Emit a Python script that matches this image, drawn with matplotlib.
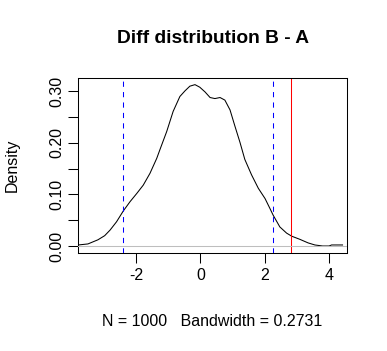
import matplotlib
matplotlib.use("Agg")
import matplotlib.pyplot as plt

plt.rcParams['font.family'] = ['Liberation Sans', 'DejaVu Sans']

# density curve
density_x = [-3.80, -3.50, -3.19, -2.98, -2.81, -2.61, -2.40, -2.19, -1.98, -1.78,
             -1.57, -1.36, -1.26, -1.05, -0.85, -0.64, -0.48, -0.33, -0.17, -0.02,
             0.14, 0.30, 0.45, 0.61, 0.76, 0.92, 1.07, 1.23, 1.38, 1.59,
             1.80, 2.01, 2.16, 2.26, 2.47, 2.68, 2.84, 3.09, 3.35, 3.56,
             3.68, 3.80, 4.00, 4.08, 4.20, 4.42]
density_y = [0.002, 0.004, 0.012, 0.020, 0.031, 0.047, 0.068, 0.086, 0.102, 0.118,
             0.141, 0.170, 0.187, 0.222, 0.261, 0.290, 0.301, 0.310, 0.313, 0.308,
             0.299, 0.288, 0.286, 0.288, 0.283, 0.264, 0.233, 0.201, 0.168, 0.138,
             0.112, 0.092, 0.073, 0.060, 0.037, 0.025, 0.019, 0.013, 0.006, 0.002,
             0.001, 0.0, 0.0, 0.002, 0.002, 0.002]

ci_bounds = [-2.40, 2.27]   # blue dashed
observed = 2.83             # red line

x_ticks = [-2, 0, 2, 4]
y_ticks = [0.00, 0.05, 0.10, 0.15, 0.20, 0.25, 0.30]
y_tick_labels = ["0.00", "", "0.10", "", "0.20", "", "0.30"]

title = "Diff distribution B - A"
xlabel = "N = 1000   Bandwidth = 0.2731"
ylabel = "Density"

W, H = 387, 351
fig = plt.figure(figsize=(W / 100, H / 100), dpi=100)
ax = fig.add_axes([78.3 / W, 1 - 252.7 / H, (346.7 - 78.3) / W, (252.7 - 78.3) / H])

ax.plot(density_x, density_y, color="black", lw=0.75, zorder=2)
ax.axhline(0, color="#BEBEBE", lw=0.75, zorder=3)
for b in ci_bounds:
    ax.axvline(b, color="#0000FF", lw=0.75, dashes=(5, 5), zorder=2)
ax.axvline(observed, color="#FF0000", lw=0.75, zorder=2)

ax.set_xlim(-3.80, 4.55)
ax.set_ylim(-0.0130, 0.3253)
ax.set_xticks(x_ticks)
ax.set_xticklabels([str(t) for t in x_ticks])
ax.set_yticks(y_ticks)
ax.set_yticklabels(y_tick_labels, rotation=90, va="center")

for s in ax.spines.values():
    s.set_linewidth(0.75)
ax.tick_params(length=6.9, width=0.75, labelsize=11.5, pad=4)
ax.tick_params(axis="y", pad=3)

fig.text(212.5 / W, 1 - 38.3 / H, title, ha="center", va="center",
         fontsize=13.8, fontweight="bold")
fig.text(212.5 / W, 1 - 321 / H, xlabel, ha="center", va="center", fontsize=11.5)
fig.text(12.7 / W, 1 - 165.5 / H, ylabel, ha="center", va="center",
         fontsize=11.5, rotation=90)

fig.savefig("out.png", dpi=100)
